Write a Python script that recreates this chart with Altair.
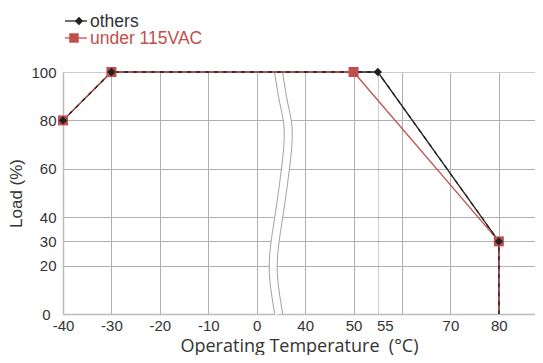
import altair as alt
import pandas as pd

# Data (temperature in °C, load in %)
others_temp = [-40, -30, 55, 80, 80]
others_load = [80, 100, 100, 30, 0]
vac_temp = [-40, -30, 50, 80, 80]
vac_load = [80, 100, 100, 30, 0]
marker_mask = [True, True, True, True, False]

x_ticks = [-40, -30, -20, -10, 0, 40, 50, 55, 60, 70, 80]
y_ticks = [0, 20, 30, 40, 60, 80, 100]

# broken-axis break curve (axis position units, load)
break_pos = [4.5, 5.6, 6.5, 5.9, 4.55, 3.8, 3.4, 3.85, 4.55]
break_load = [100, 87, 76, 59.5, 40, 30, 19.4, 8.7, 0]

GAP_LO, GAP_HI = 0, 40  # axis jumps from 0 to 40


def to_pos(t):
    return t if t <= GAP_LO else t - (GAP_HI - GAP_LO) + 10


RED = "#c0504d"
BLK = "#222222"

df_o = pd.DataFrame({"pos": [to_pos(t) for t in others_temp], "load": others_load,
                     "i": range(len(others_temp)), "m": marker_mask})
df_v = pd.DataFrame({"pos": [to_pos(t) for t in vac_temp], "load": vac_load,
                     "i": range(len(vac_temp)), "m": marker_mask})
df_b = pd.DataFrame({"pos": break_pos, "load": break_load, "i": range(len(break_pos))})

tick_pos = [to_pos(t) for t in x_ticks]
label_expr = "datum.value == 30 ? '' : (datum.value > 0 ? '' + (datum.value + 30) : '' + datum.value)"

PLOT_W = 472
xs = alt.Scale(domain=[-40, -40 + PLOT_W / 4.843], nice=False, zero=False)
ys = alt.Scale(domain=[0, 100], nice=False)

x_enc = alt.X("pos:Q", scale=xs, axis=alt.Axis(
    values=tick_pos, labelExpr=label_expr, title="Operating Temperature\u00a0 (°C)",
    grid=True, ticks=False, labelPadding=4,
    labelOffset={"condition": {"test": "datum.value == 25", "value": 7}, "value": 0},
    gridColor={"condition": {"test": "datum.value == 25", "value": "#cccccc"}, "value": "#b0b0b0"},
    titleFont="Open Sans", titleFontSize=18, titleFontWeight="normal", titleColor="#333",
    titleY=37, titleBaseline="alphabetic",
    labelFont="Liberation Sans", labelFontSize=15, labelColor="#333",
    domainColor="#bbbbbb", domainWidth=1.5, labelFlush=False))
y_enc = alt.Y("load:Q", scale=ys, axis=alt.Axis(
    values=y_ticks, title="Load (%)", grid=True, ticks=False,
    labelPadding={"condition": {"test": "datum.value == 0", "value": 13}, "value": 7},
    gridColor={"condition": {"test": "datum.value == 100", "value": "#cccccc"}, "value": "#b0b0b0"},
    titleFont="Liberation Sans", titleFontSize=17, titleFontWeight="normal", titleColor="#333",
    titlePadding=5, labelFont="Liberation Sans", labelFontSize=15, labelColor="#333",
    domainColor="#bbbbbb", domainWidth=1.5, labelFlush=False))

base_b = alt.Chart(df_b).encode(x=x_enc, y=y_enc, order="i:Q")
band = base_b.mark_line(color="white", strokeWidth=8, interpolate="natural")
edge_l = base_b.mark_line(color="#a0a0a0", strokeWidth=1, interpolate="natural", xOffset=-4)
edge_r = base_b.mark_line(color="#a0a0a0", strokeWidth=1, interpolate="natural", xOffset=4)

line_o = alt.Chart(df_o).mark_line(color=BLK, strokeWidth=1.3).encode(x=x_enc, y=y_enc, order="i:Q")
line_v = alt.Chart(df_v).mark_line(color=RED, strokeWidth=1.3).encode(x=x_enc, y=y_enc, order="i:Q")
line_od = alt.Chart(df_o).mark_line(color=BLK, strokeWidth=1.3, strokeDash=[4, 5]).encode(
    x=x_enc, y=y_enc, order="i:Q")
pts_v = alt.Chart(df_v).transform_filter("datum.m").mark_point(
    shape="square", filled=True, color=RED, size=100, opacity=1).encode(x=x_enc, y=y_enc)
pts_o = alt.Chart(df_o).transform_filter("datum.m").mark_point(
    shape="diamond", filled=True, color=BLK, size=70, opacity=1).encode(x=x_enc, y=y_enc)

# manual legend above plot
leg_o_line = alt.Chart(df_o.head(1)).mark_rule(color=BLK, strokeWidth=1.3).encode(
    x=alt.value(2), x2=alt.value(24), y=alt.value(-51))
leg_o_pt = alt.Chart(df_o.head(1)).mark_point(shape="diamond", filled=True, color=BLK,
                                              size=70, opacity=1).encode(x=alt.value(16), y=alt.value(-51))
leg_o_txt = alt.Chart(df_o.head(1)).mark_text(text="others", align="left", baseline="alphabetic",
                                              font="Liberation Sans", fontSize=17.5, color="#333").encode(
    x=alt.value(27), y=alt.value(-45))
leg_v_line = alt.Chart(df_v.head(1)).mark_rule(color=RED, strokeWidth=1.3).encode(
    x=alt.value(2), x2=alt.value(24), y=alt.value(-34))
leg_v_pt = alt.Chart(df_v.head(1)).mark_point(shape="square", filled=True, color=RED,
                                              size=90, opacity=1).encode(x=alt.value(11), y=alt.value(-34))
leg_v_txt = alt.Chart(df_v.head(1)).mark_text(text="under 115VAC", align="left", baseline="alphabetic",
                                              font="Liberation Sans", fontSize=17.5, color=RED).encode(
    x=alt.value(27), y=alt.value(-28))

chart = alt.layer(
    band, edge_l, edge_r, line_o, line_v, line_od, pts_v, pts_o,
    leg_o_line, leg_o_pt, leg_o_txt, leg_v_line, leg_v_pt, leg_v_txt
).properties(
    width=PLOT_W, height=242,
    autosize=alt.AutoSizeParams(type="none"),
    padding={"left": 55, "top": 64, "right": 0, "bottom": 41},
).configure_view(stroke=None).configure(background="white")

chart.save("out.html", embed_options={"renderer": "svg", "actions": False})
